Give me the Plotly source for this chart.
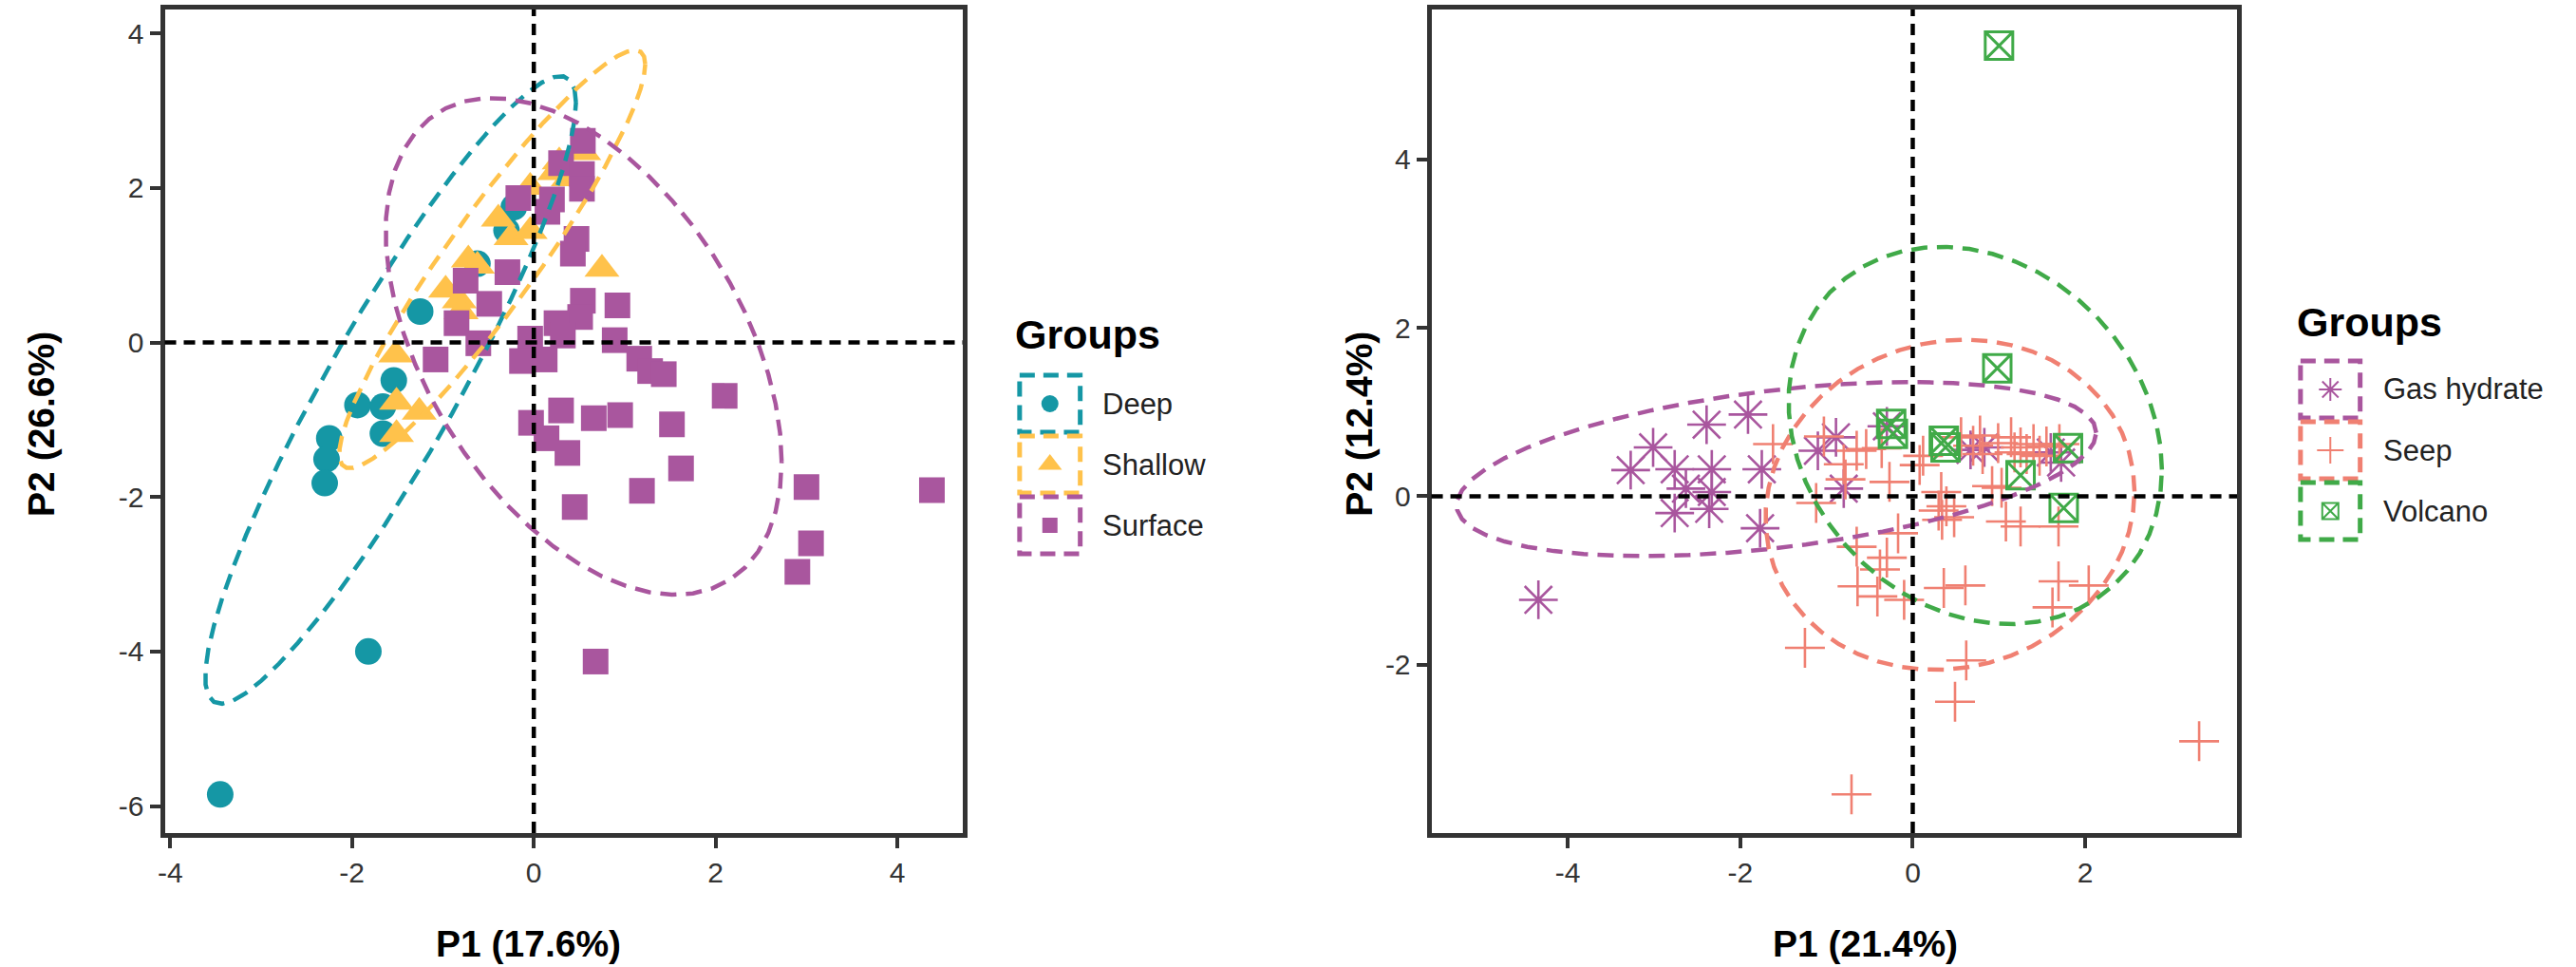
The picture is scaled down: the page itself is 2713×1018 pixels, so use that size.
import numpy as np
import plotly.graph_objects as go

W, H = 2713, 1018

# ---------------- data : left panel (P1 17.6 %, P2 26.6 %) ----------------
deep_x = [-0.22, -0.62, -0.30, -1.25, -1.54, -1.94, -1.66, -1.66, -2.25, -2.28, -2.30, -1.82, -3.45]
deep_y = [1.75, 1.02, 1.45, 0.40, -0.49, -0.81, -0.83, -1.18, -1.24, -1.51, -1.82, -4.00, -5.85]

shallow_x = [0.28, 0.55, 0.23, 0.38, -0.04, -0.39, -0.25, -0.04, -0.72, -0.62, 0.75,
             -0.97, -0.82, -0.80, -1.52, -1.51, -1.26, -1.51]
shallow_y = [2.34, 2.46, 2.20, 2.12, 2.01, 1.60, 1.36, 1.44, 1.07, 0.99, 0.95,
             0.68, 0.54, 0.40, -0.16, -0.77, -0.90, -1.19]

surface_x = [0.54, 0.30, 0.53, 0.53, -0.17, 0.20, 0.15, 0.47, 0.43, -0.29, -0.49, 0.54, 0.92,
             0.51, 0.25, -0.85, -0.61, -0.04, 0.32, 0.89, -1.08, -0.13, 0.12, 1.16, 1.28,
             1.43, 2.10, -0.03, 0.30, 0.66, 0.95, 0.14, 0.37, 1.52, 1.62, 1.19, 0.45,
             3.00, 3.05, 2.90, 0.68, 4.38, -0.75]
surface_y = [2.61, 2.32, 2.18, 1.99, 1.87, 1.85, 1.69, 1.34, 1.15, 0.91, 0.50, 0.54, 0.48,
             0.33, 0.25, 0.25, -0.01, 0.05, 0.09, 0.03, -0.22, -0.24, -0.22, -0.21, -0.37,
             -0.41, -0.69, -1.04, -0.88, -0.98, -0.94, -1.24, -1.43, -1.06, -1.63, -1.92, -2.13,
             -1.87, -2.60, -2.97, -4.13, -1.91, 0.80]

# ---------------- data : right panel (P1 21.4 %, P2 12.4 %) ----------------
gas_x = [-4.34, -3.27, -3.01, -2.76, -2.39, -1.91, -2.33, -1.75, -2.63, -2.33, -2.76,
         -2.36, -1.77, -1.10, -0.89, -0.80, -0.30, 0.67, 0.83, 1.72, 1.60]
gas_y = [-1.23, 0.31, 0.58, 0.32, 0.85, 0.97, 0.32, 0.32, 0.09, 0.05, -0.20,
         -0.15, -0.38, 0.54, 0.70, 0.09, 0.83, 0.55, 0.58, 0.40, 0.52]

seep_x = [-1.25, 0.62, 0.49, -0.71, 3.32, -0.64, -0.41, -0.10, 0.36, 0.61, 1.69, 2.04,
          1.62, -0.30, -0.38, -0.65, -0.17, 0.34, 0.30, 1.08, 1.25, 1.69, 0.48, -1.12,
          -0.27, 0.92, -0.78, 0.08, 0.12, -1.62, -1.03, -0.65, -0.54, -0.36, 0.78, 0.99,
          1.14, 1.18, 1.32, 1.47, 1.55, 1.03, -0.80, 0.39, 1.70, 0.56, 0.81, 0.33,
          1.40, 1.25, 0.70]
seep_y = [-1.80, -1.95, -2.44, -3.54, -2.91, -1.07, -1.19, -1.23, -1.09, -1.06, -1.01, -1.06,
          -1.32, -0.73, -0.87, -0.60, -0.44, -0.28, -0.17, -0.30, -0.36, -0.36, -0.25, -0.08,
          0.17, 0.12, 0.20, 0.37, 0.48, 0.62, 0.71, 0.54, 0.56, 0.57, 0.72, 0.63,
          0.70, 0.52, 0.50, 0.48, 0.59, 0.10, 0.38, -0.12, 0.62, 0.70, 0.50, 0.05,
          0.62, 0.58, 0.60]

volcano_x = [1.00, 0.98, -0.25, -0.23, 0.36, 0.38, 1.80, 1.25, 1.75]
volcano_y = [5.35, 1.52, 0.86, 0.74, 0.66, 0.58, 0.57, 0.25, -0.14]

left_xticks = [-4, -2, 0, 2, 4]
left_yticks = [-6, -4, -2, 0, 2, 4]
right_xticks = [-4, -2, 0, 2]
right_yticks = [-2, 0, 2, 4]

TEAL, YELLOW, PURPLE = "#1597A5", "#FFC24B", "#A9569E"
SALMON, GREEN = "#F08072", "#40AA48"


# ---------------- stat_ellipse (type = "t", level = 0.95) ----------------
def cov_trob(X, nu=5, maxit=25, tol=0.01):
    n, p = X.shape
    wt = np.ones(n)
    loc = X.mean(axis=0)
    w = np.sqrt(wt)
    Xc = X - loc
    for _ in range(maxit):
        w0 = w
        Xc = X - loc
        A = np.sqrt(w / w.sum())[:, None] * Xc
        _, d, Vt = np.linalg.svd(A, full_matrices=False)
        wX = Xc @ Vt.T @ np.diag(1.0 / d)
        Q = np.sum(wX ** 2, axis=1)
        w = (wt * (nu + p)) / (nu + Q)
        loc = np.sum(w[:, None] * X, axis=0) / w.sum()
        if np.all(np.abs(w - w0) < tol):
            break
    S = np.sqrt(w)[:, None] * Xc
    return loc, S.T @ S / wt.sum()


def ellipse(xs, ys, level=0.95, segments=51):
    X = np.column_stack([xs, ys]).astype(float)
    center, shape = cov_trob(X)
    dfd = X.shape[0] - 1
    fq = (dfd / 2.0) * ((1 - level) ** (-2.0 / dfd) - 1)
    radius = np.sqrt(2 * fq)
    R = np.linalg.cholesky(shape).T
    ang = np.arange(segments + 1) * 2 * np.pi / segments
    circ = np.column_stack([np.cos(ang), np.sin(ang)])
    e = center + radius * (circ @ R)
    return e[:, 0], e[:, 1]


fig = go.Figure()

DASH = "17px,10px"
LW = 4.5

left_groups = [
    (deep_x, deep_y, TEAL, dict(symbol="circle", size=28)),
    (shallow_x, shallow_y, YELLOW, dict(symbol="triangle-up", size=32)),
    (surface_x, surface_y, PURPLE, dict(symbol="square", size=27)),
]
right_groups = [
    (gas_x, gas_y, PURPLE, dict(symbol="asterisk-open", size=34, line=dict(width=2.6))),
    (seep_x, seep_y, SALMON, dict(symbol="cross-thin-open", size=30, line=dict(width=2.6))),
    (volcano_x, volcano_y, GREEN, dict(symbol="square-x-open", size=29, line=dict(width=3))),
]

for groups, xa, ya in [(left_groups, "x", "y"), (right_groups, "x2", "y2")]:
    for gx, gy, col, mk in groups:
        m = dict(mk)
        m["color"] = col
        if "line" in m:
            m["line"] = dict(m["line"], color=col)
        else:
            m["line"] = dict(width=0)
        fig.add_trace(go.Scatter(x=gx, y=gy, mode="markers", marker=m,
                                 xaxis=xa, yaxis=ya, showlegend=False, hoverinfo="skip"))
    for gx, gy, col, mk in groups:
        ex, ey = ellipse(gx, gy)
        fig.add_trace(go.Scatter(x=ex, y=ey, mode="lines",
                                 line=dict(color=col, width=LW, dash=DASH),
                                 xaxis=xa, yaxis=ya, showlegend=False, hoverinfo="skip"))

# ---------------- layout / axes ----------------
L_X0, L_X1 = 166, 1009
R_X0, R_X1 = 1504, 2355
P_Y0, P_Y1 = 10, 877

SANS = "Liberation Sans, Arial, Helvetica, sans-serif"

axis_common = dict(showgrid=False, zeroline=False, showline=True, mirror=True,
                   linecolor="#333333", linewidth=5, ticks="outside", ticklen=11,
                   tickwidth=4, tickcolor="#333333",
                   tickfont=dict(family=SANS, size=30, color="#333333"))


def tick_axis(vals):
    return dict(tickvals=vals, ticktext=[str(v) for v in vals])


fig.update_layout(
    width=W, height=H, autosize=False,
    margin=dict(l=0, r=0, t=0, b=0),
    paper_bgcolor="white", plot_bgcolor="rgba(0,0,0,0)",
    xaxis=dict(axis_common, domain=[L_X0 / W, L_X1 / W], range=[-4.06, 4.72],
               anchor="y", **tick_axis(left_xticks)),
    yaxis=dict(axis_common, domain=[1 - P_Y1 / H, 1 - P_Y0 / H], range=[-6.35, 4.31],
               anchor="x", **tick_axis(left_yticks)),
    xaxis2=dict(axis_common, domain=[R_X0 / W, R_X1 / W], range=[-5.58, 3.76],
                anchor="y2", **tick_axis(right_xticks)),
    yaxis2=dict(axis_common, domain=[1 - P_Y1 / H, 1 - P_Y0 / H], range=[-4.0, 5.78],
                anchor="x2", **tick_axis(right_yticks)),
    xaxis3=dict(domain=[0, 1], range=[0, W], visible=False, anchor="y3", fixedrange=True),
    yaxis3=dict(domain=[0, 1], range=[H, 0], visible=False, anchor="x3", fixedrange=True),
)

shapes = []
for xr, yr in [("x", "y"), ("x2", "y2")]:
    shapes.append(dict(type="line", xref=xr, yref=yr + " domain", x0=0, x1=0, y0=0, y1=1,
                       line=dict(color="black", width=4.5, dash="12px,8px"), layer="above"))
    shapes.append(dict(type="line", xref=xr + " domain", yref=yr, x0=0, x1=1, y0=0, y1=0,
                       line=dict(color="black", width=4.5, dash="12px,8px"), layer="above"))

# ---------------- custom legends ----------------
legend_left = [("Deep", TEAL, "circle", 18, None, 425),
               ("Shallow", YELLOW, "triangle-up", 22, None, 489),
               ("Surface", PURPLE, "square", 16, None, 553)]
legend_right = [("Gas hydrate", PURPLE, "asterisk-open", 20, 2, 410),
                ("Seep", SALMON, "cross-thin-open", 20, 2, 474),
                ("Volcano", GREEN, "square-x-open", 17, 2, 538)]

annotations = []
for items, bx0, bx1, tx, title_x, title_y in [(legend_left, 1069, 1133, 1154, 1062, 352),
                                              (legend_right, 2422, 2485, 2507, 2416, 339)]:
    annotations.append(dict(text="<b>Groups</b>", x=title_x / W, y=1 - title_y / H,
                            xref="paper", yref="paper", xanchor="left", yanchor="middle",
                            showarrow=False, font=dict(family=SANS, size=43, color="black")))
    for label, col, sym, sz, lw, cy in items:
        shapes.append(dict(type="rect", xref="x3", yref="y3", x0=bx0, x1=bx1,
                           y0=cy - 30, y1=cy + 30,
                           line=dict(color=col, width=5, dash="16px,9px")))
        mk = dict(symbol=sym, size=sz, color=col)
        mk["line"] = dict(width=lw, color=col) if lw else dict(width=0)
        fig.add_trace(go.Scatter(x=[(bx0 + bx1) / 2], y=[cy], mode="markers", marker=mk,
                                 xaxis="x3", yaxis="y3", showlegend=False, hoverinfo="skip"))
        annotations.append(dict(text=label, x=tx / W, y=1 - cy / H, xref="paper", yref="paper",
                                xanchor="left", yanchor="middle", showarrow=False,
                                font=dict(family=SANS, size=31, color="#222222")))

# ---------------- axis titles ----------------
for txt, cx, cy, rot in [("P1 (17.6%)", 550, 993, 0), ("P2 (26.6%)", 35, 446, -90),
                         ("P1 (21.4%)", 1962, 993, 0), ("P2 (12.4%)", 1427, 446, -90)]:
    annotations.append(dict(text="<b>" + txt + "</b>", x=cx / W, y=1 - cy / H,
                            xref="paper", yref="paper", xanchor="center", yanchor="middle",
                            textangle=rot, showarrow=False,
                            font=dict(family=SANS, size=39, color="black")))

fig.update_layout(shapes=shapes, annotations=annotations)
fig.write_html("out.html", config={"displayModeBar": False},
               post_script="document.body.style.margin='0';"
                           "document.body.style.overflow='hidden';")
